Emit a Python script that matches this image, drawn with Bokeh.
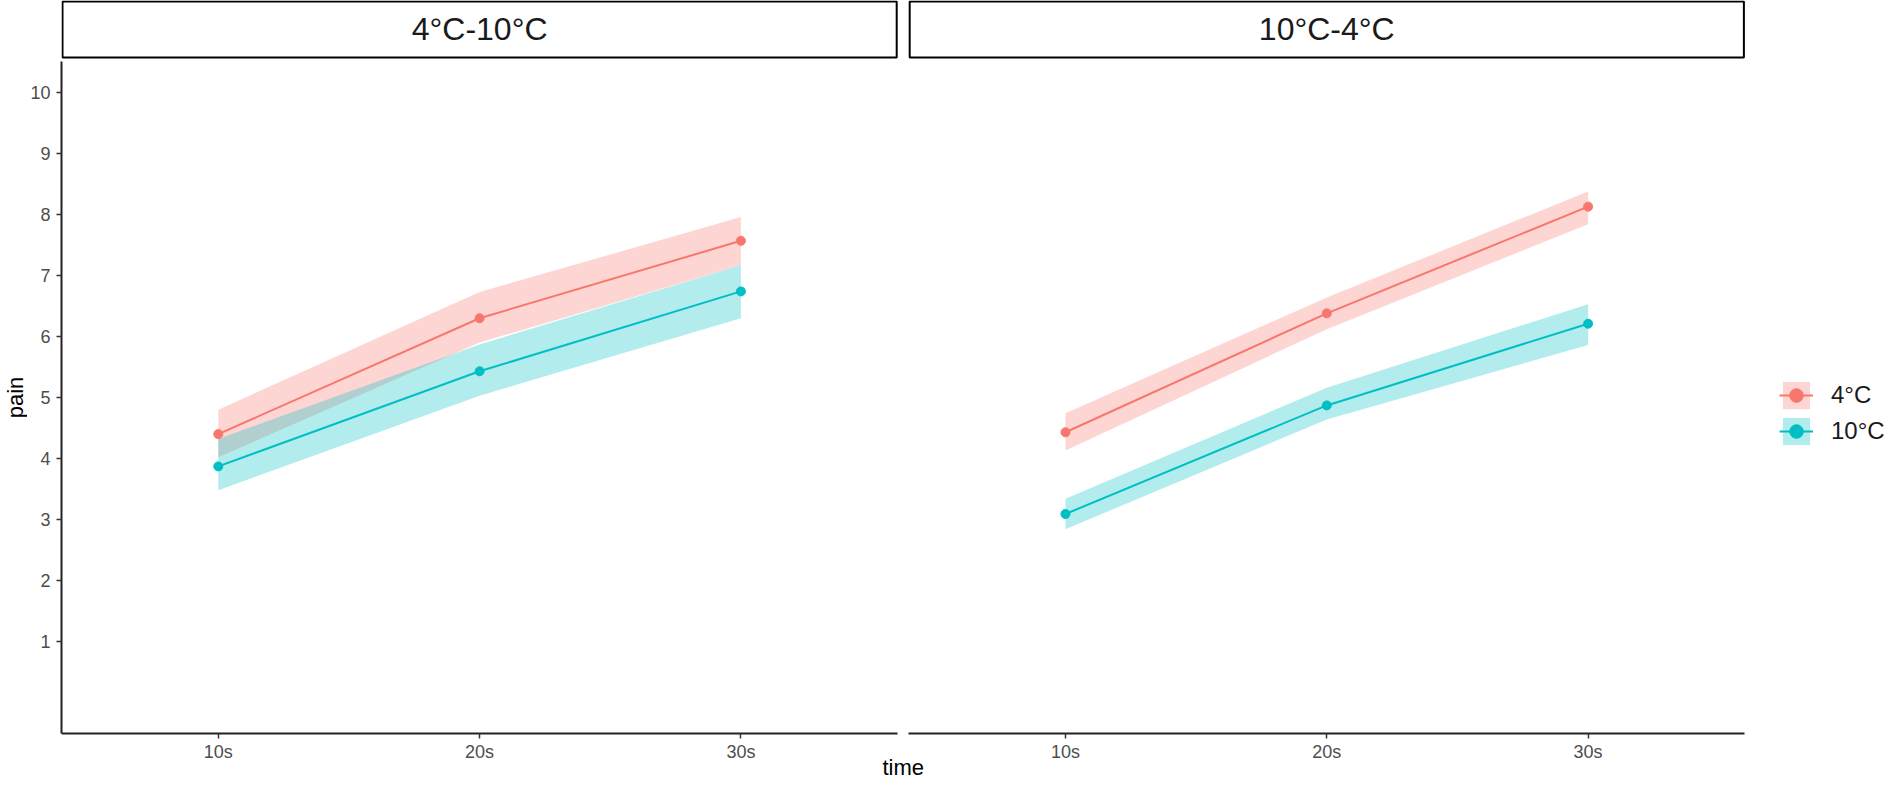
import math
from bokeh.plotting import figure
from bokeh.models import Range1d, FixedTicker, Legend, LegendItem, LinearAxis
from bokeh.layouts import row
from bokeh.embed import file_html
from bokeh.resources import INLINE
from bokeh.core.properties import value

# ---------------- data ----------------
time_labels = ["10s", "20s", "30s"]
panel_titles = ["4°C-10°C", "10°C-4°C"]
groups = ["4°C", "10°C"]
colors = ["#F8766D", "#00BFC4"]
y_ticks = [1, 2, 3, 4, 5, 6, 7, 8, 9, 10]

# panel 1: 4°C-10°C
p1_4C_mean = [4.40, 6.30, 7.57]
p1_4C_lo = [4.02, 5.90, 7.17]
p1_4C_hi = [4.80, 6.73, 7.96]
p1_10C_mean = [3.87, 5.43, 6.74]
p1_10C_lo = [3.48, 5.03, 6.30]
p1_10C_hi = [4.32, 5.87, 7.17]

# panel 2: 10°C-4°C
p2_4C_mean = [4.43, 6.38, 8.13]
p2_4C_lo = [4.13, 6.12, 7.84]
p2_4C_hi = [4.74, 6.64, 8.38]
p2_10C_mean = [3.09, 4.87, 6.21]
p2_10C_lo = [2.84, 4.64, 5.86]
p2_10C_hi = [3.34, 5.16, 6.53]

panel_data = [
    [(p1_4C_mean, p1_4C_lo, p1_4C_hi), (p1_10C_mean, p1_10C_lo, p1_10C_hi)],
    [(p2_4C_mean, p2_4C_lo, p2_4C_hi), (p2_10C_mean, p2_10C_lo, p2_10C_hi)],
]

# ---------------- layout constants (pixels) ----------------
FONT = "Liberation Sans"
H = 784                    # figure height (page 8 .. 792)
KY = 60.98                 # px per y unit
KX = 261.6                 # px per x unit
Y0, Y1 = -0.51, 10.51      # panel y extent (axis bounds)
AXIS_PX = 741 - 8          # frame px of x axis line from top
y_end = Y1 + (69 - 8) / KY
y_start = Y0 - (H - AXIS_PX) / KY
X0, X1 = 0.4, 3.6          # one panel x extent
GAP = 3.2 + 11 / KX        # shift of the second panel
FRAME_W = 1894 - 67
x_end = X0 + FRAME_W / KX
xs = [i + 1 for i in range(len(time_labels))]
offsets = [0.0, GAP]

p = figure(width=1859, height=H, x_range=Range1d(X0, x_end), y_range=Range1d(y_start, y_end),
           min_border_left=32, min_border_right=0, min_border_top=0, min_border_bottom=0,
           toolbar_location=None, output_backend="svg", x_axis_location=None,
           y_axis_location="left", title=None)
p.grid.visible = False
p.outline_line_color = None
p.background_fill_color = "white"
p.border_fill_color = "white"

ay = p.yaxis[0]
ay.ticker = FixedTicker(ticks=y_ticks)
ay.bounds = (Y0, Y1)
ay.minor_tick_line_color = None
ay.major_tick_in = 0
ay.major_tick_out = 5
ay.major_label_standoff = 6
ay.axis_line_color = "#222222"
ay.axis_line_width = 2
ay.major_tick_line_color = "#333333"
ay.major_tick_line_width = 1.5
ay.major_label_text_font = FONT
ay.major_label_text_font_size = "18px"
ay.major_label_text_color = "#4D4D4D"

legend_items = []
for idx, off in enumerate(offsets):
    px = [x + off for x in xs]
    ax = LinearAxis(fixed_location=Y0, bounds=(X0 + off, X1 + off),
                    ticker=FixedTicker(ticks=px),
                    major_label_overrides={x: lab for x, lab in zip(px, time_labels)})
    ax.minor_tick_line_color = None
    ax.major_tick_in = 0
    ax.major_tick_out = 5
    ax.major_label_standoff = 3
    ax.axis_line_color = "#222222"
    ax.axis_line_width = 2
    ax.major_tick_line_color = "#333333"
    ax.major_tick_line_width = 1.5
    ax.major_label_text_font = FONT
    ax.major_label_text_font_size = "18px"
    ax.major_label_text_color = "#4D4D4D"
    p.add_layout(ax, "below")

    # facet strip
    dx = 1 / KX
    p.quad(left=[X0 + off + dx], right=[X1 + off - dx], bottom=[Y1 + 4 / KY],
           top=[y_end - 1 / KY], fill_color="white", line_color="black", line_width=2)
    p.text(x=[(X0 + X1) / 2 + off], y=[Y1 + 32.5 / KY], text=[panel_titles[idx]],
           text_align="center", text_baseline="middle", text_font=value(FONT),
           text_font_size="32px", text_color="#1A1A1A")

    ribs, lines, pts = [], [], []
    for (mean, lo, hi), c in zip(panel_data[idx], colors):
        ribs.append(p.varea(x=px, y1=lo, y2=hi, fill_color=c, fill_alpha=0.3))
    for (mean, lo, hi), c in zip(panel_data[idx], colors):
        lines.append(p.line(x=px, y=mean, line_color=c, line_width=2))
    for (mean, lo, hi), c in zip(panel_data[idx], colors):
        pts.append(p.scatter(x=px, y=mean, size=9, fill_color=c, line_color=c))
    if idx == 1:
        legend_items = [LegendItem(label=g, renderers=[r, l, s])
                        for g, r, l, s in zip(groups, ribs, lines, pts)]

# x-axis title, centred under both panels
p.text(x=[(X0 + X1 + GAP) / 2], y=[Y0 - (775 - 741) / KY], text=["time"],
       text_align="center", text_baseline="alphabetic", text_font=value(FONT),
       text_font_size="22px", text_color="black")

legend = Legend(
    items=legend_items, location=(1785 - 67, (8 + H) - 456), orientation="vertical",
    glyph_width=34, glyph_height=34, spacing=2, padding=0, margin=0,
    label_standoff=18, label_height=34,
    label_text_font=FONT, label_text_font_size="24px", label_text_color="#1A1A1A",
    border_line_color=None, background_fill_alpha=0,
)
p.add_layout(legend, "center")

# y-axis title
pY = figure(width=27, height=H, x_range=Range1d(0, 27), y_range=Range1d(0, H),
            min_border=0, toolbar_location=None, output_backend="svg",
            x_axis_location=None, y_axis_location=None, title=None)
pY.grid.visible = False
pY.outline_line_color = None
pY.text(x=[15], y=[H - (405 - 8)], text=["pain"], angle=math.pi / 2,
        text_align="center", text_baseline="alphabetic", text_font=value(FONT),
        text_font_size="22px", text_color="black")

layout = row(pY, p)
open("out.html", "w").write(file_html(layout, INLINE))
